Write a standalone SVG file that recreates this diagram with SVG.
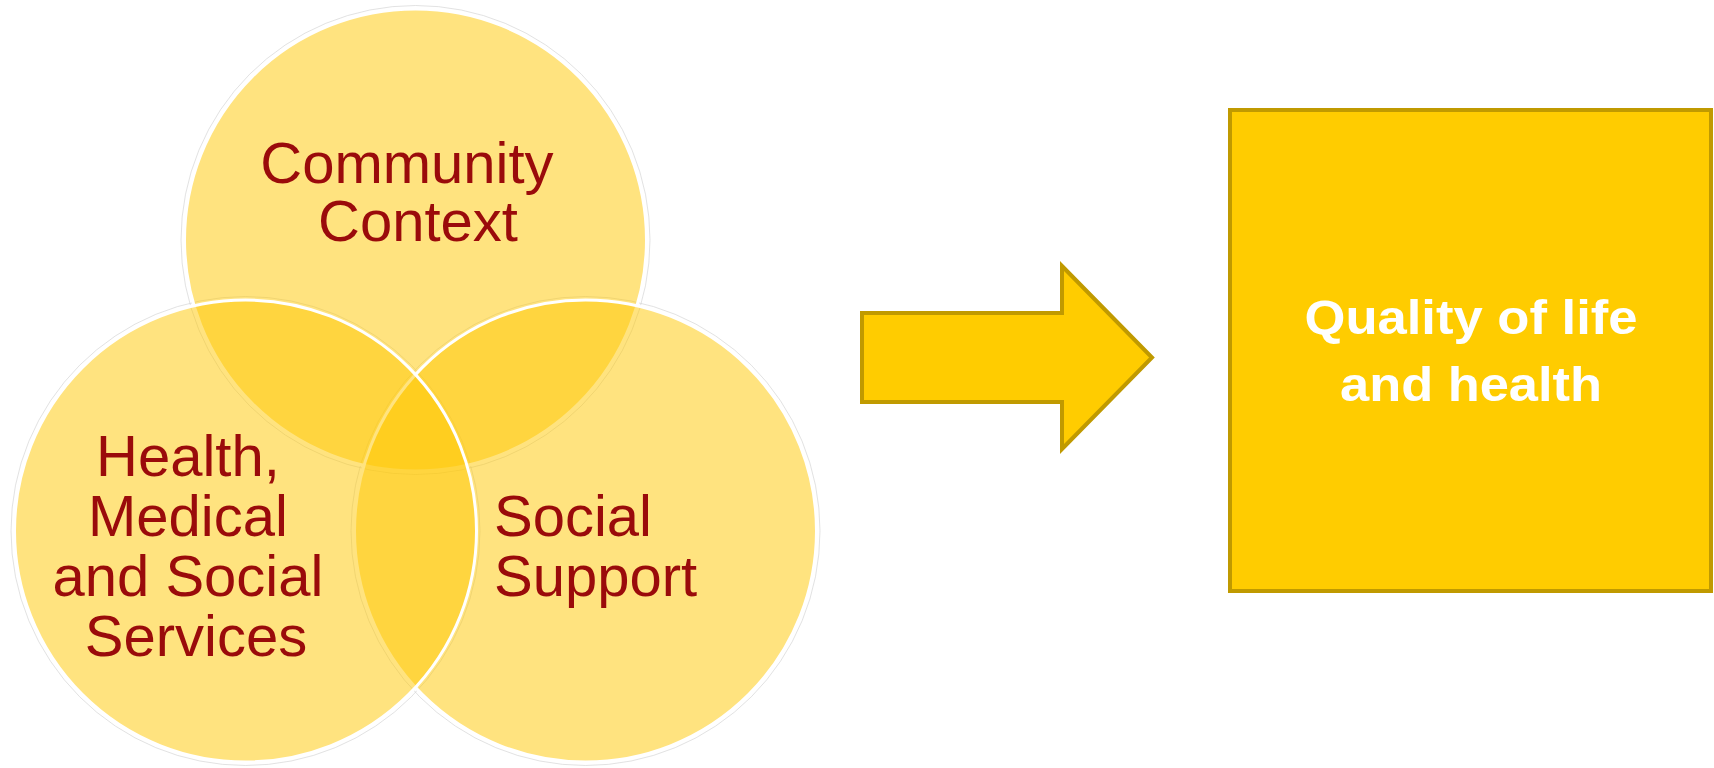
<svg xmlns="http://www.w3.org/2000/svg" width="1714" height="768" viewBox="0 0 1714 768">
  <style>
    .halo { fill: none; stroke: #cfcfcf; stroke-width: 1; opacity: 0.6; }
    .venn { fill: #FFC800; fill-opacity: 0.5; stroke: #ffffff; stroke-width: 3; }
    .venn-label { font-family: "Liberation Sans", Arial, sans-serif; font-size: 58px; fill: #9A0B0B; }
    .block { fill: #FFCC00; stroke: #C09A00; stroke-width: 4; stroke-linejoin: miter; }
    .outcome-label { font-family: "Liberation Sans", Arial, sans-serif; font-size: 49px; font-weight: bold; fill: #ffffff; text-anchor: middle; }
  </style>

  <rect width="1714" height="768" fill="#ffffff"/>

  <!-- soft outer rims behind the three circles -->
  <g id="rims">
    <circle class="halo" cx="415.5" cy="240" r="234.5"/>
    <circle class="halo" cx="585.5" cy="531" r="234.5"/>
    <circle class="halo" cx="245.5" cy="531" r="234.5"/>
  </g>

  <g id="node-community">
    <circle class="venn" cx="415.5" cy="240" r="231"/>
    <text class="venn-label" text-anchor="middle">
      <tspan x="415" y="183">Community</tspan>
      <tspan x="418" y="240.5">Context</tspan>
    </text>
  </g>

  <g id="node-social-support">
    <circle class="venn" cx="585.5" cy="531" r="231"/>
    <text class="venn-label">
      <tspan x="494" y="536">Social</tspan>
      <tspan x="494" y="596">Support</tspan>
    </text>
  </g>

  <g id="node-services">
    <circle class="venn" cx="245.5" cy="531" r="231"/>
    <text class="venn-label" text-anchor="middle">
      <tspan x="196" y="475.5">Health,</tspan>
      <tspan x="196" y="535.5">Medical</tspan>
      <tspan x="196" y="596">and Social</tspan>
      <tspan x="196" y="656">Services</tspan>
    </text>
  </g>

  <g id="connectors">
    <polygon class="block" points="862,313 1062,313 1062,266 1152,357.5 1062,449 1062,402 862,402"/>
  </g>

  <g id="node-outcome">
    <rect class="block" x="1230" y="110" width="481" height="481"/>
    <text class="outcome-label" x="1471" y="333.5" textLength="333" lengthAdjust="spacingAndGlyphs">Quality of life</text>
    <text class="outcome-label" x="1471" y="400.5" textLength="262" lengthAdjust="spacingAndGlyphs">and health</text>
  </g>
</svg>
